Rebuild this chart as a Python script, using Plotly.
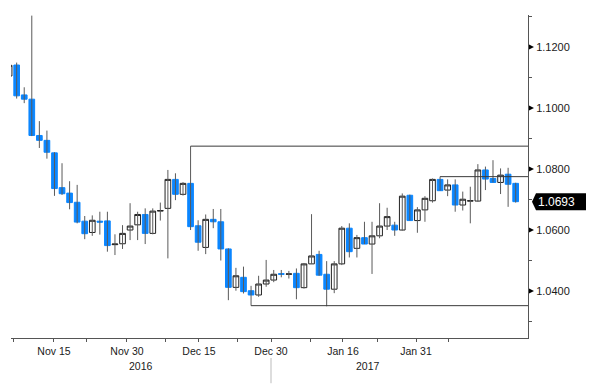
import plotly.graph_objects as go

# ---------------- data (EUR/USD daily candles) ----------------
dates = [
    "2016-11-04", "2016-11-07", "2016-11-08", "2016-11-09", "2016-11-10", "2016-11-11",
    "2016-11-14", "2016-11-15", "2016-11-16", "2016-11-17", "2016-11-18",
    "2016-11-21", "2016-11-22", "2016-11-23", "2016-11-24", "2016-11-25",
    "2016-11-28", "2016-11-29", "2016-11-30", "2016-12-01", "2016-12-02",
    "2016-12-05", "2016-12-06", "2016-12-07", "2016-12-08", "2016-12-09",
    "2016-12-12", "2016-12-13", "2016-12-14", "2016-12-15", "2016-12-16",
    "2016-12-19", "2016-12-20", "2016-12-21", "2016-12-22", "2016-12-23",
    "2016-12-26", "2016-12-27", "2016-12-28", "2016-12-29", "2016-12-30",
    "2017-01-02", "2017-01-03", "2017-01-04", "2017-01-05", "2017-01-06",
    "2017-01-09", "2017-01-10", "2017-01-11", "2017-01-12", "2017-01-13",
    "2017-01-16", "2017-01-17", "2017-01-18", "2017-01-19", "2017-01-20",
    "2017-01-23", "2017-01-24", "2017-01-25", "2017-01-26", "2017-01-27",
    "2017-01-30", "2017-01-31", "2017-02-01", "2017-02-02", "2017-02-03",
    "2017-02-06", "2017-02-07",
]
opens = [
    1.1105, 1.1141, 1.1043, 1.1029, 1.0910, 1.0894,
    1.0853, 1.0739, 1.0721, 1.0691, 1.0629,
    1.0592, 1.0629, 1.0630, 1.0552, 1.0555,
    1.0600, 1.0617, 1.0651, 1.0589, 1.0662,
    1.0671, 1.0766, 1.0717, 1.0753, 1.0614,
    1.0543, 1.0635, 1.0627, 1.0538, 1.0412,
    1.0445, 1.0401, 1.0387, 1.0423, 1.0436,
    1.0457, 1.0455, 1.0458, 1.0411, 1.0489,
    1.0520, 1.0455, 1.0406, 1.0489, 1.0606,
    1.0540, 1.0575, 1.0554, 1.0581, 1.0613,
    1.0616, 1.0600, 1.0714, 1.0631, 1.0666,
    1.0696, 1.0766, 1.0731, 1.0748, 1.0682,
    1.0695, 1.0695, 1.0797, 1.0769, 1.0756,
    1.0783, 1.0753,
]
highs = [
    1.1148, 1.1149, 1.1068, 1.1303, 1.0957, 1.0926,
    1.0855, 1.0819, 1.0760, 1.0748, 1.0646,
    1.0648, 1.0660, 1.0660, 1.0586, 1.0616,
    1.0688, 1.0660, 1.0671, 1.0671, 1.0690,
    1.0797, 1.0786, 1.0757, 1.0875, 1.0632,
    1.0651, 1.0669, 1.0669, 1.0540, 1.0476,
    1.0480, 1.0417, 1.0450, 1.0502, 1.0469,
    1.0469, 1.0466, 1.0474, 1.0492, 1.0652,
    1.0532, 1.0498, 1.0498, 1.0613, 1.0622,
    1.0584, 1.0627, 1.0627, 1.0688, 1.0673,
    1.0627, 1.0720, 1.0716, 1.0675, 1.0711,
    1.0769, 1.0775, 1.0766, 1.0766, 1.0726,
    1.0742, 1.0816, 1.0808, 1.0829, 1.0802,
    1.0804, 1.0755,
]
lows = [
    1.1100, 1.1031, 1.1016, 1.0908, 1.0869, 1.0834,
    1.0712, 1.0715, 1.0668, 1.0622, 1.0570,
    1.0581, 1.0585, 1.0529, 1.0518, 1.0538,
    1.0567, 1.0567, 1.0554, 1.0586, 1.0631,
    1.0507, 1.0698, 1.0713, 1.0600, 1.0532,
    1.0521, 1.0606, 1.0500, 1.0370, 1.0401,
    1.0392, 1.0352, 1.0381, 1.0414, 1.0429,
    1.0445, 1.0441, 1.0373, 1.0408, 1.0489,
    1.0450, 1.0350, 1.0393, 1.0485, 1.0510,
    1.0510, 1.0554, 1.0456, 1.0573, 1.0600,
    1.0581, 1.0598, 1.0631, 1.0591, 1.0627,
    1.0690, 1.0729, 1.0711, 1.0660, 1.0664,
    1.0622, 1.0693, 1.0731, 1.0756, 1.0718,
    1.0676, 1.0690,
]
closes = [
    1.1140, 1.1040, 1.1029, 1.0910, 1.0894, 1.0855,
    1.0736, 1.0719, 1.0690, 1.0626, 1.0588,
    1.0632, 1.0626, 1.0549, 1.0554, 1.0589,
    1.0613, 1.0651, 1.0589, 1.0662, 1.0664,
    1.0766, 1.0717, 1.0753, 1.0611, 1.0560,
    1.0635, 1.0627, 1.0538, 1.0412, 1.0450,
    1.0398, 1.0387, 1.0423, 1.0436, 1.0455,
    1.0455, 1.0456, 1.0411, 1.0489, 1.0515,
    1.0452, 1.0406, 1.0489, 1.0606, 1.0529,
    1.0575, 1.0554, 1.0581, 1.0613, 1.0644,
    1.0600, 1.0711, 1.0631, 1.0666, 1.0704,
    1.0766, 1.0729, 1.0748, 1.0682, 1.0701,
    1.0696, 1.0797, 1.0767, 1.0756, 1.0780,
    1.0750, 1.0693,
]

x_tick_labels = ["", "Nov 15", "", "Nov 30", "", "Dec 15", "", "Dec 30", "", "Jan 16", "", "Jan 31", ""]
year_labels = ["2016", "2017"]
y_tick_values = [1.04, 1.06, 1.08, 1.10, 1.12]

# horizontal levels: (start date, price)
level_start_dates = ["2016-12-08", "2016-12-20", "2017-01-24"]
level_prices = [1.0875, 1.0352, 1.0775]

# ---------------- styling / layout ----------------
BLUE = "#0b86ff"
WICK = "#5a5a5a"
AXIS = "#555555"
FONT = "Liberation Sans, Arial, sans-serif"
TXT = "#1a1a1a"

n = len(dates)
idx = list(range(n))
x_min, x_max = 0.25, 68.63
y_min, y_max = 1.0246, 1.1305
x_tick_pos = [0.64, 5.93, 10.30, 15.59, 20.75, 25.11, 30.27, 34.64, 39.80, 44.16, 48.66, 53.82, 58.05]
year_pos = [17.44, 47.47]

fig = go.Figure()

# wicks
wx, wy = [], []
for i in idx:
    wx += [i, i, None]
    wy += [lows[i], highs[i], None]
fig.add_trace(go.Scatter(x=wx, y=wy, mode="lines", line=dict(color=WICK, width=1),
                         hoverinfo="skip", showlegend=False))

# level lines
for d, p in zip(level_start_dates, level_prices):
    i0 = dates.index(d)
    fig.add_trace(go.Scatter(x=[i0, x_max], y=[p, p], mode="lines",
                             line=dict(color="#3a3a3a", width=1),
                             hoverinfo="skip", showlegend=False))

# bodies
body_hi = [max(o, c) for o, c in zip(opens, closes)]
body_lo = [min(o, c) for o, c in zip(opens, closes)]
fig.add_trace(go.Candlestick(
    x=idx, open=opens, high=body_hi, low=body_lo, close=closes, text=dates,
    increasing=dict(line=dict(color="#222222", width=1), fillcolor="white"),
    decreasing=dict(line=dict(color=BLUE, width=1), fillcolor=BLUE),
    whiskerwidth=0, showlegend=False,
))

fig.update_layout(
    width=600, height=388,
    margin=dict(l=3, r=80, t=7, b=58),
    paper_bgcolor="white", plot_bgcolor="white",
    boxgap=0.25, boxgroupgap=0,
    font=dict(family=FONT, size=11, color=TXT),
    showlegend=False,
    xaxis=dict(
        type="linear", range=[x_min, x_max], rangeslider=dict(visible=False),
        tickmode="array", tickvals=x_tick_pos, ticktext=x_tick_labels,
        ticks="outside", ticklen=3, tickcolor=AXIS, tickwidth=1,
        showline=True, linecolor=AXIS, linewidth=1, showgrid=False, zeroline=False,
        tickfont=dict(family=FONT, size=10.5, color=TXT),
    ),
    yaxis=dict(
        side="right", range=[y_min, y_max],
        tickmode="array", tickvals=y_tick_values, tickformat=".4f",
        ticks="outside", ticklen=5, tickcolor="rgba(0,0,0,0)",
        minor=dict(ticks="outside", ticklen=3, tickcolor=AXIS, tick0=1.03, dtick=0.02, showgrid=False),
        showline=True, linecolor=AXIS, linewidth=1, showgrid=False, zeroline=False,
        tickfont=dict(family=FONT, size=11, color=TXT),
    ),
)

# triangle markers at major y ticks
for v in y_tick_values:
    fig.add_shape(type="path", xref="paper", yref="paper", xsizemode="pixel", ysizemode="pixel",
                  xanchor=1, yanchor=(v - y_min) / (y_max - y_min),
                  path="M 1 -2.5 L 6 0 L 1 2.5 Z",
                  fillcolor="black", line=dict(color="black", width=0))

# year labels
for lab, xp in zip(year_labels, year_pos):
    fig.add_annotation(x=xp, xref="x", y=0, yref="paper", yshift=-28, text=lab,
                       showarrow=False, xanchor="center", yanchor="middle",
                       font=dict(family=FONT, size=10.5, color=TXT))

# year separator
fig.add_shape(type="line", xref="x", yref="paper", x0=x_tick_pos[7], x1=x_tick_pos[7],
              y0=-0.062, y1=-0.14, line=dict(color="#bbbbbb", width=1))

# last price tag
last = closes[-1]
yp = (last - y_min) / (y_max - y_min)
fig.add_shape(type="path", xref="paper", yref="paper", xsizemode="pixel", ysizemode="pixel",
              xanchor=1, yanchor=yp,
              path="M 4 0 L 8 8.5 L 58 8.5 L 58 -8.5 L 8 -8.5 Z",
              fillcolor="black", line=dict(color="black", width=0))
fig.add_annotation(x=1, xref="paper", y=yp, yref="paper", xshift=8, text=f"{last:.4f}",
                   showarrow=False, xanchor="left", yanchor="middle",
                   font=dict(family=FONT, size=12, color="white"))

fig.write_html("out.html")
